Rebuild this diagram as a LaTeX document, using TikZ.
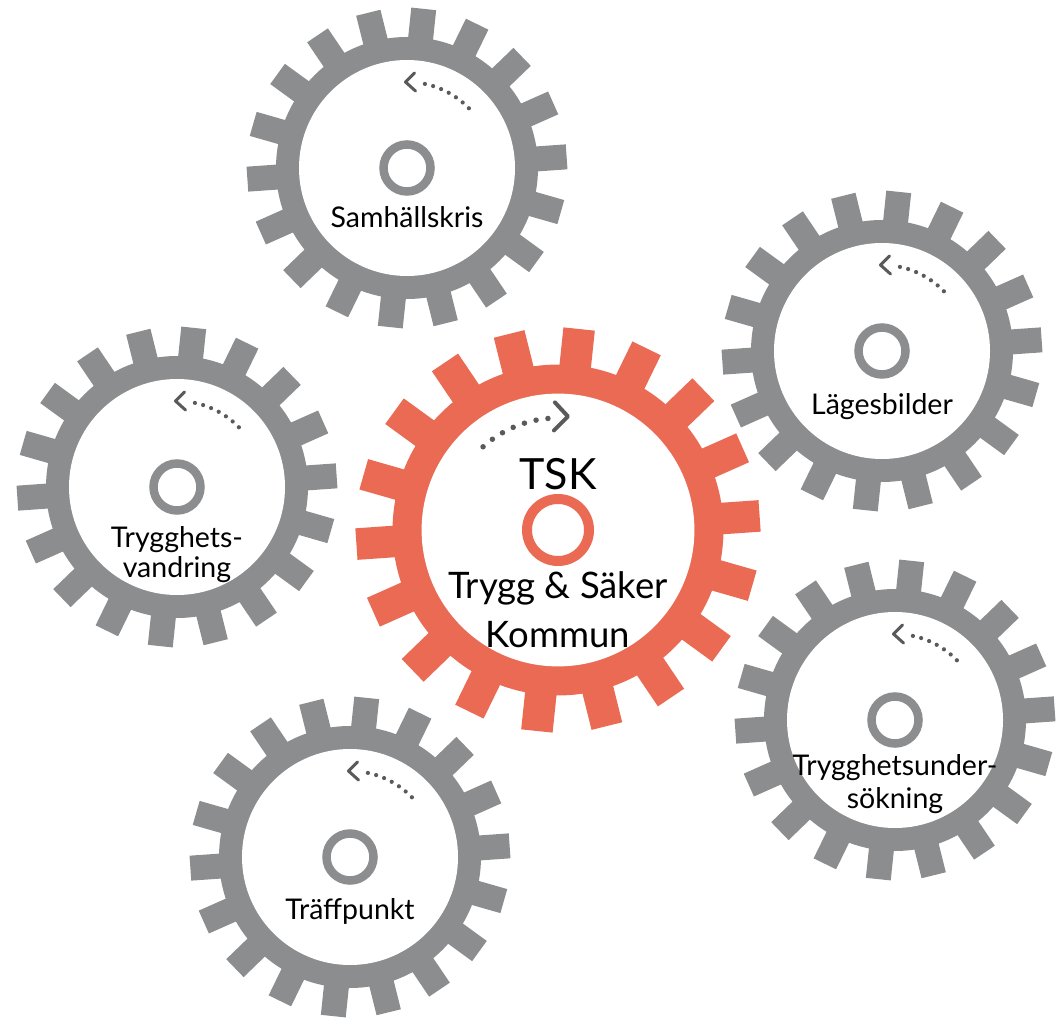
\documentclass[tikz,border=0pt]{standalone}
\usepackage{fontspec}
\setmainfont{Lato}
\usetikzlibrary{arrows.meta}
\definecolor{gearg}{HTML}{8C8D8F}
\definecolor{gearo}{HTML}{EA6A53}
\definecolor{dotg}{HTML}{5A5A5A}
\tikzset{
  gearlabel/.style={font=\fontsize{28.5}{32}\selectfont, align=center, inner sep=0pt, text=black},
  dotarc/.style={dotg, line width=4.2pt, line cap=round, dash pattern=on 0pt off 8.5pt},
  dotarcbig/.style={dotg, line width=5.5pt, line cap=round, dash pattern=on 0pt off 12pt},
}
% #1 center name, #2 scale, #3 colour
\newcommand\gearbody[3]{%
  \begin{scope}[shift={(#1)}, scale=#2]
    \fill[#3] (0,0) circle (131);
    \foreach \a in {4,24,...,344}
      \fill[#3, rotate=\a] (125,-12.5) rectangle (160,12.5);
    \fill[white] (0,0) circle (108);
  \end{scope}}
% gray small gear details: hub + dotted arrow; #1 centre name
\newcommand\grayhub[1]{%
  \draw[gearg, line width=8.5pt] (#1) circle (23.5);
  \draw[dotarc] ([shift={(44:86)}]#1) arc[start angle=44, end angle=82, radius=86];
  \draw[dotg, line width=3pt, line cap=round, line join=round]
     ([shift={(91:86)}]#1) ++(9,9) -- ([shift={(91:86)}]#1) -- ++(10,-9);
}
\begin{document}
\begin{tikzpicture}[x=1pt, y=1pt]
\useasboundingbox (0,0) rectangle (1056,1021);
% centres
\coordinate (cT) at (558,491);
\coordinate (cS) at (407,853);
\coordinate (cL) at (882,670);
\coordinate (cV) at (177,534);
\coordinate (cU) at (895,301);
\coordinate (cP) at (350,164);

% central gear
\gearbody{cT}{1.263}{gearo}
\draw[gearo, line width=10pt] (cT) circle (31);
\draw[dotarcbig] ([shift={(132:112)}]cT) arc[start angle=132, end angle=91, radius=112];
\draw[dotg, line width=4pt, line cap=round, line join=round]
  ([shift={(85:114)}]cT) ++(-13,14) -- ([shift={(85:114)}]cT) -- ++(-14,-14);

% gray gears
\gearbody{cS}{1}{gearg}
\gearbody{cL}{1}{gearg}
\gearbody{cV}{1}{gearg}
\gearbody{cU}{1}{gearg}
\gearbody{cP}{1}{gearg}
\grayhub{cS}
\grayhub{cL}
\grayhub{cV}
\grayhub{cU}
\grayhub{cP}

% labels
\node[gearlabel, anchor=base] (tS) at ([yshift=-60]cS) {Samhällskris};
\node[gearlabel, anchor=base] (tL) at ([yshift=-64]cL) {Lägesbilder};
\node[gearlabel, anchor=base] (tP) at ([yshift=-62]cP) {Träffpunkt};
\node[gearlabel, anchor=base] (tV1) at ([yshift=-60]cV) {Trygghets-};
\node[gearlabel, anchor=base] (tV2) at ([yshift=-90]cV) {vandring};
\node[gearlabel, anchor=base] (tU1) at ([yshift=-55]cU) {Trygghetsunder-};
\node[gearlabel, anchor=base] (tU2) at ([yshift=-88]cU) {sökning};
\node[font=\fontsize{43}{46}\selectfont, anchor=base, inner sep=0pt] (tsk) at ([yshift=40]cT) {TSK};
\node[font=\fontsize{36.5}{40}\selectfont, anchor=base, inner sep=0pt] (tT1) at ([yshift=-68]cT) {Trygg \& Säker};
\node[font=\fontsize{36.5}{40}\selectfont, anchor=base, inner sep=0pt] (tT2) at ([yshift=-117]cT) {Kommun};
\end{tikzpicture}
\end{document}
